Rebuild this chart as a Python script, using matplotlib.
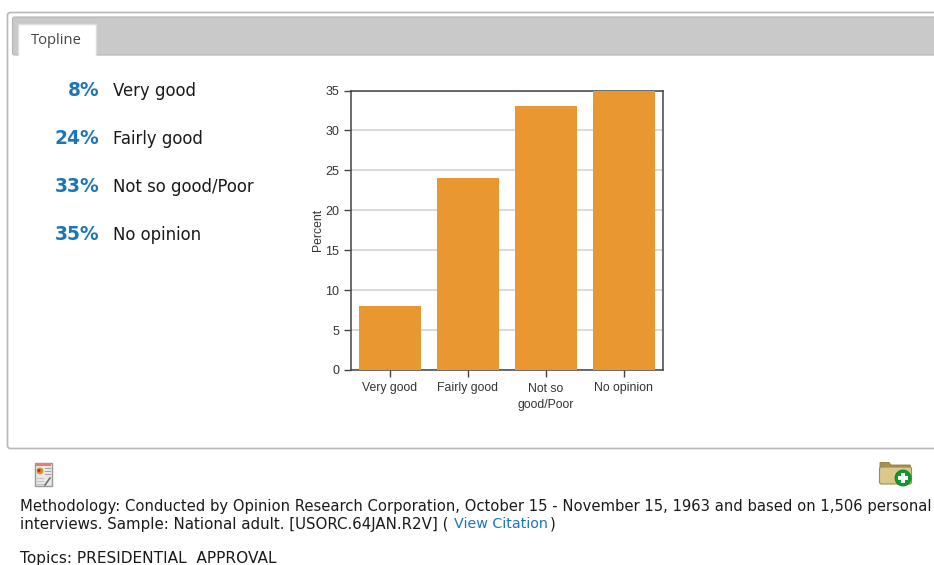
import matplotlib
matplotlib.use("Agg")
import matplotlib.pyplot as plt
from matplotlib.patches import Rectangle, FancyBboxPatch, Circle, Polygon

categories = ["Very good", "Fairly good", "Not so\ngood/Poor", "No opinion"]
list_labels = ["Very good", "Fairly good", "Not so good/Poor", "No opinion"]
values = [8, 24, 33, 35]
yticks = [0, 5, 10, 15, 20, 25, 30, 35]

W, H = 934, 565
plt.rcParams["font.family"] = "DejaVu Sans"
fig = plt.figure(figsize=(W / 100, H / 100), dpi=100, facecolor="white")

# overlay in pixel coordinates for page furniture
bg = fig.add_axes([0, 0, 1, 1])
bg.set_xlim(0, W)
bg.set_ylim(H, 0)
bg.axis("off")

# outer panel
bg.add_patch(FancyBboxPatch((7.5, 12.5), 960, 436, boxstyle="round,pad=0,rounding_size=3",
                            fc="white", ec="#b8b8b8", lw=1.2))
# tab strip
bg.add_patch(FancyBboxPatch((12.5, 17), 950, 38, boxstyle="round,pad=0,rounding_size=2",
                            fc="#c9c9c9", ec="#b4b4b4", lw=0.8))
bg.add_patch(Rectangle((17.5, 23.5), 78, 33, fc="white", ec="none", zorder=3))
bg.plot([17.5, 17.5, 95.5, 95.5], [55, 23.5, 23.5, 55], color="#dddddd", lw=1, zorder=4)
bg.text(56, 41, "Topline", fontsize=10.6, color="#444444", ha="center", va="center", zorder=5,
        family=["Open Sans", "DejaVu Sans"])

# answer list
ys = [91, 139, 187, 235]
for y, v, lab in zip(ys, values, list_labels):
    bg.text(99.5, y, f"{v}%", fontsize=13.4, color="#1b75bb", fontweight="bold", ha="right", va="center")
    bg.text(113, y, lab, fontsize=11.9, color="#1a1a1a", ha="left", va="center")

# report icon
bg.add_patch(Rectangle((34.5, 462.5), 17, 23.5, fc="#e8e8e8", ec="#9a9a9a", lw=1))
bg.add_patch(Rectangle((35.5, 463.5), 15, 2, fc="#e08070", ec="none"))
bg.add_patch(Circle((40, 471), 3.4, fc="#d9902a", ec="none"))
bg.add_patch(Circle((39, 470.5), 1.6, fc="#c03020", ec="none"))
for yy in [468, 471, 474]:
    bg.plot([45, 50], [yy, yy], color="#a0a0a0", lw=0.7)
for yy in [478, 481, 484]:
    bg.plot([37, 43], [yy, yy], color="#c0c0c0", lw=0.7)
bg.plot([45, 50], [485, 478], color="#707070", lw=1.2)

# folder icon
bg.add_patch(Polygon([(880, 462.5), (889, 462.5), (891, 465), (910, 465), (911, 468), (880, 468)],
                     fc="#a8924e", ec="#8f7b3e", lw=0.6))
bg.add_patch(FancyBboxPatch((879.5, 467), 32, 17, boxstyle="round,pad=0,rounding_size=2",
                            fc="#d9c98c", ec="#a08c4c", lw=0.8))
bg.add_patch(Circle((903, 478), 8, fc="#0f9a2e", ec="#0b7f22", lw=0.6, zorder=4))
bg.add_patch(Rectangle((898, 476), 10, 4, fc="white", ec="none", zorder=5))
bg.add_patch(Rectangle((901, 473), 4, 10, fc="white", ec="none", zorder=5))

# methodology text
tc = "#1a1a1a"
fs = 10.6
bg.text(19.5, 507, "Methodology: Conducted by Opinion Research Corporation, October 15 - November 15, 1963 and based on 1,506 personal",
        fontsize=fs, color=tc, va="center", ha="left", clip_on=True)
bg.text(19.5, 524, "interviews. Sample: National adult. [USORC.64JAN.R2V] (", fontsize=10.78, color=tc, va="center", ha="left")
bg.text(453.5, 524, "View Citation", fontsize=10.3, color="#1b75bb", va="center", ha="left")
bg.text(550, 524, ")", fontsize=fs, color=tc, va="center", ha="left")
bg.text(19.5, 558, "Topics: PRESIDENTIAL  APPROVAL", fontsize=11.1, color=tc, va="center", ha="left")

# chart
l, r, t_, b = 350.5, 663, 90.5, 370
ax = fig.add_axes([l / W, 1 - b / H, (r - l) / W, (b - t_) / H], facecolor="white")
x = range(len(values))
ax.bar(x, values, width=0.795, color="#e99831", zorder=3)
ax.set_xlim(-0.5, 3.5)
ax.set_ylim(0, 35)
ax.set_yticks(yticks)
ax.set_xticks(list(x))
ax.set_xticklabels(categories, fontsize=8.8, color="#333333", linespacing=1.55,
                   family=["Liberation Sans"])
ax.set_yticklabels([str(v) for v in yticks], fontsize=9, color="#333333", family=["Liberation Sans"])
ax.grid(axis="y", color="#cfcfcf", lw=1.1, zorder=0)
ax.set_axisbelow(True)
for s in ax.spines.values():
    s.set_color("#444444")
    s.set_linewidth(1.1)
ax.tick_params(axis="both", length=5, width=1, color="#444444", pad=3)
ax.tick_params(axis="x", pad=4)
ax.set_ylabel("Percent", fontsize=8.8, color="#333333", family=["Liberation Sans"])
ax.yaxis.set_label_coords(-26.5 / (r - l), 0.5)

fig.savefig("out.png", dpi=100, facecolor="white")
